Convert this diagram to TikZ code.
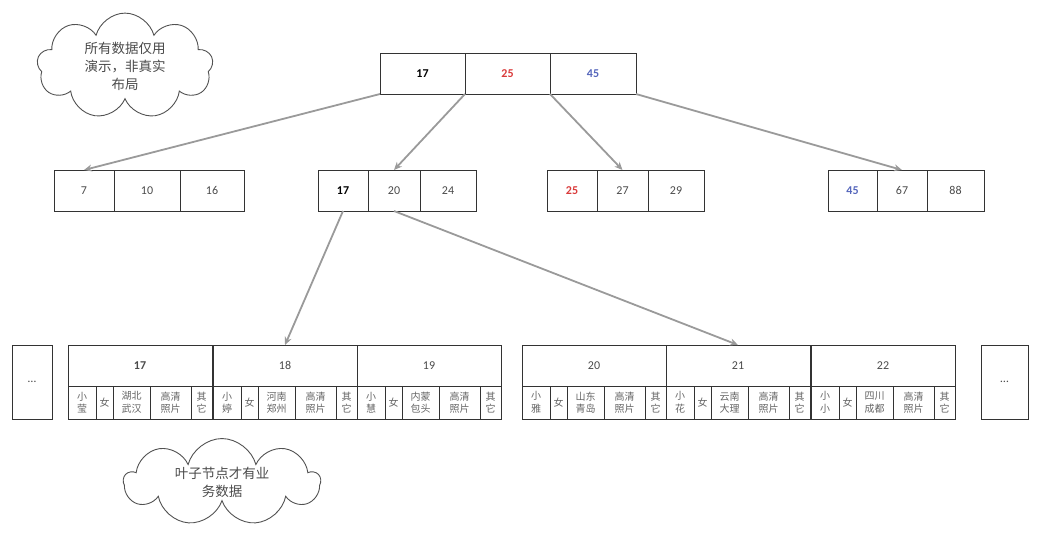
\documentclass[tikz,border=0pt]{standalone}
\usepackage{fontspec}
\setmainfont{Carlito}
\newfontfamily\cjk{Noto Sans CJK SC}
\usetikzlibrary{positioning,shapes.symbols,arrows.meta}
\definecolor{linegray}{HTML}{333333}
\definecolor{arrowgray}{HTML}{9A9A9A}
\definecolor{textgray}{HTML}{4A4A4A}
\definecolor{keyred}{HTML}{D93A3A}
\definecolor{keyblue}{HTML}{5566BB}
\tikzset{
    cell/.style={draw=linegray, line width=0.9pt, inner sep=0pt, outer sep=0pt,
        minimum height=41pt, text=textgray, font=\fontsize{12}{14}\selectfont},
    boldkey/.style={font=\bfseries\fontsize{12}{14}\selectfont},
    subcell/.style={cell, minimum height=33pt, align=center, text=textgray!85,
        font=\cjk\fontsize{10}{12.5}\selectfont},
    dotsbox/.style={cell, minimum height=74pt, minimum width=40pt},
    link/.style={draw=arrowgray, line width=1.8pt, -{Stealth[length=8pt,width=7pt]}},
    note/.style={cloud, draw=linegray!85, line width=0.9pt, cloud puffs=9,
        cloud ignores aspect, align=center, text=textgray,
        font=\cjk\fontsize{13.5}{18}\selectfont}
}
\begin{document}
\begin{tikzpicture}[x=1pt, y=-1pt]
    \useasboundingbox (0,0) rectangle (1047,539);

    % root
    \node [cell, boldkey, minimum width=85pt, anchor=north west, text=black] (r17) at (380,53) {17};
    \node [cell, boldkey, minimum width=85pt, right=0pt of r17, text=keyred] (r25) {25};
    \node [cell, boldkey, minimum width=86pt, right=0pt of r25, text=keyblue] (r45) {45};

    % second level
    \node [cell, minimum width=60pt, anchor=north west] (a7) at (54,170) {7};
    \node [cell, minimum width=66pt, right=0pt of a7] (a10) {10};
    \node [cell, minimum width=64pt, right=0pt of a10] (a16) {16};

    \node [cell, boldkey, minimum width=50pt, anchor=north west, text=black] (b17) at (318,170) {17};
    \node [cell, minimum width=52pt, right=0pt of b17] (b20) {20};
    \node [cell, minimum width=56pt, right=0pt of b20] (b24) {24};

    \node [cell, boldkey, minimum width=50pt, anchor=north west, text=keyred] (c25) at (547,170) {25};
    \node [cell, minimum width=51pt, right=0pt of c25] (c27) {27};
    \node [cell, minimum width=56pt, right=0pt of c27] (c29) {29};

    \node [cell, boldkey, minimum width=49pt, anchor=north west, text=keyblue] (d45) at (828,170) {45};
    \node [cell, minimum width=50pt, right=0pt of d45] (d67) {67};
    \node [cell, minimum width=57pt, right=0pt of d67] (d88) {88};

    % leaves
    \node [dotsbox, anchor=north west] (dotsl) at (12,345) {\dots};
    \node [dotsbox, anchor=north west, minimum width=47pt] (dotsr) at (981,345) {\dots};
    \foreach \x/\k/\lbl/\nm/\pl in {68/17/\textbf{17}/{小\\莹}/{湖北\\武汉},
        213/18/18/{小\\婷}/{河南\\郑州}, 357/19/19/{小\\慧}/{内蒙\\包头},
        522/20/20/{小\\雅}/{山东\\青岛}, 666/21/21/{小\\花}/{云南\\大理},
        811/22/22/{小\\小}/{四川\\成都}}
    {
        \node [cell, minimum width=144pt, anchor=north west] (k\k) at (\x,345) {\lbl};
        \node [subcell, minimum width=28pt, anchor=north west] (n\k) at (k\k.south west) {\nm};
        \node [subcell, minimum width=17pt, right=0pt of n\k] (g\k) {女};
        \node [subcell, minimum width=37pt, right=0pt of g\k] (p\k) {\pl};
        \node [subcell, minimum width=41pt, right=0pt of p\k] (h\k) {高清\\照片};
        \node [subcell, minimum width=21pt, right=0pt of h\k] (o\k) {其\\它};
    }

    % links
    \draw [link] (r17.south west) -- (a7.north);
    \draw [link] (r25.south west) -- (b20.north);
    \draw [link] (r45.south west) -- (c27.north);
    \draw [link] (r45.south east) -- (d67.north);
    \draw [link] (b17.south) -- (k18.north);
    \draw [link] (b20.south) -- (k21.north);

    % notes
    \node [note, minimum width=176pt, minimum height=102pt] (note1) at (125,66) {所有数据仅用\\演示，非真实\\布局};
    \node [note, minimum width=196pt, minimum height=86pt] (note2) at (222,482) {叶子节点才有业\\务数据};
\end{tikzpicture}
\end{document}
